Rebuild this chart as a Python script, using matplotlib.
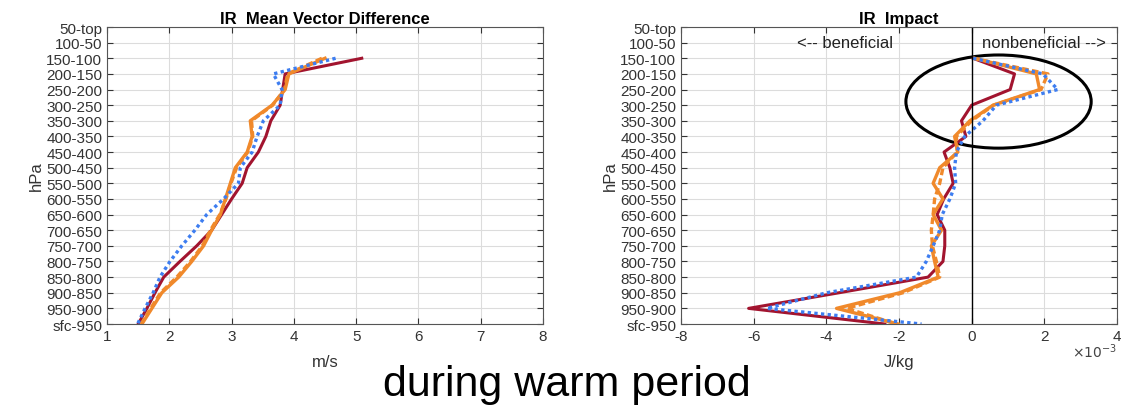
import matplotlib.pyplot as plt
import numpy as np
from matplotlib.patches import Ellipse

plt.rcParams['font.family'] = ['Liberation Sans', 'DejaVu Sans']
plt.rcParams['axes.unicode_minus'] = False

levels = ['50-top', '100-50', '150-100', '200-150', '250-200', '300-250', '350-300',
          '400-350', '450-400', '500-450', '550-500', '600-550', '650-600', '700-650',
          '750-700', '800-750', '850-800', '900-850', '950-900', 'sfc-950']

# values start at 150-100 (index 2) down to sfc-950
mvd_red = [5.09, 3.86, 3.82, 3.78, 3.63, 3.55, 3.43, 3.25, 3.17, 3.00, 2.84, 2.68,
           2.44, 2.17, 1.91, 1.77, 1.64, 1.50]
mvd_orange = [4.50, 3.92, 3.86, 3.65, 3.30, 3.33, 3.25, 3.06, 2.98, 2.90, 2.82, 2.68,
              2.55, 2.36, 2.15, 1.88, 1.72, 1.56]
mvd_orange_d = [4.45, 3.90, 3.85, 3.66, 3.32, 3.34, 3.26, 3.08, 2.99, 2.91, 2.81, 2.66,
                2.53, 2.34, 2.12, 1.86, 1.70, 1.55]
mvd_blue = [4.67, 3.67, 3.81, 3.78, 3.51, 3.41, 3.33, 3.14, 3.11, 2.87, 2.60, 2.41,
            2.20, 2.01, 1.85, 1.74, 1.61, 1.49]

imp_red = [0.04, 1.18, 1.06, 0.00, -0.28, -0.16, -0.76, -0.60, -0.51, -0.77, -0.95, -0.74,
           -0.74, -0.79, -1.20, -3.65, -6.14, -2.39]
imp_orange = [0.08, 1.78, 1.87, 0.59, -0.05, -0.47, -0.38, -0.88, -1.06, -0.79, -1.06, -0.83,
              -1.11, -1.02, -0.92, -1.98, -3.72, -2.02]
imp_orange_d = [0.04, 2.10, 1.91, 0.60, 0.00, -0.42, -0.40, -0.79, -0.88, -1.02, -1.06, -1.11,
                -1.08, -0.97, -0.88, -1.89, -3.44, -2.07]
imp_blue = [0.04, 1.96, 2.37, 0.68, 0.31, -0.19, -0.42, -0.47, -0.44, -0.60, -0.81, -0.88,
            -1.06, -1.25, -1.52, -3.99, -5.64, -1.38]

red = '#A2142F'
orange = '#F0892B'
blue = '#3D7DF0'

ypos = np.arange(2, len(levels))

fig = plt.figure(figsize=(11.4, 4.1), dpi=100)
ax1 = fig.add_axes([0.0939, 0.2073, 0.3824, 0.7244])
ax2 = fig.add_axes([0.5974, 0.2073, 0.3824, 0.7244])

def style(ax):
    ax.set_ylim(len(levels) - 1, 0)
    ax.set_yticks(range(len(levels)))
    ax.set_yticklabels(levels)
    ax.grid(True, color='#dcdcdc', linewidth=0.8)
    ax.set_axisbelow(True)
    ax.tick_params(labelsize=11, colors='#333333', direction='in', length=4,
                   right=True, top=True)
    for s in ax.spines.values():
        s.set_color('#555555')
    ax.set_ylabel('hPa', fontsize=12, color='#333333', labelpad=2)

# left panel
ax1.plot(mvd_red, ypos, color=red, lw=2.2)
ax1.plot(mvd_orange, ypos, color=orange, lw=2.4)
ax1.plot(mvd_orange_d, ypos, color=orange, lw=2.4, ls=(0, (2, 1)))
ax1.plot(mvd_blue, ypos, color=blue, lw=2.4, ls=(0, (1, 1)))
style(ax1)
ax1.set_xlim(1, 8)
ax1.set_xticks(range(1, 9))
ax1.set_xlabel('m/s', fontsize=12, color='#333333', labelpad=8)
ax1.set_title('IR  Mean Vector Difference', fontsize=12, fontweight='bold', pad=3)

# right panel
ax2.plot(imp_red, ypos, color=red, lw=2.2)
ax2.plot(imp_orange, ypos, color=orange, lw=2.4)
ax2.plot(imp_orange_d, ypos, color=orange, lw=2.4, ls=(0, (2, 1)))
ax2.plot(imp_blue, ypos, color=blue, lw=2.4, ls=(0, (1, 1)))
ax2.axvline(0, color='black', lw=1)
style(ax2)
ax2.set_xlim(-8, 4)
ax2.set_xticks(range(-8, 5, 2))
ax2.set_xlabel('J/kg', fontsize=12, color='#333333', labelpad=8)
ax2.set_title('IR  Impact', fontsize=12, fontweight='bold', pad=3)
ax2.text(-3.5, 1, '<-- beneficial', fontsize=12, ha='center', va='center', color='#222222')
ax2.text(2.0, 1, 'nonbeneficial -->', fontsize=12, ha='center', va='center', color='#222222')
ax2.add_patch(Ellipse((0.74, 4.77), 5.1, 5.96, fill=False, edgecolor='black', lw=2.2))
ax2.text(1.0, -0.06, r'$\times10^{-3}$', transform=ax2.transAxes, fontsize=10,
         ha='right', va='top', color='#444444')

fig.text(0.497, 0.062, 'during warm period', fontsize=31, ha='center', va='center')

fig.savefig('out.png', dpi=100)
